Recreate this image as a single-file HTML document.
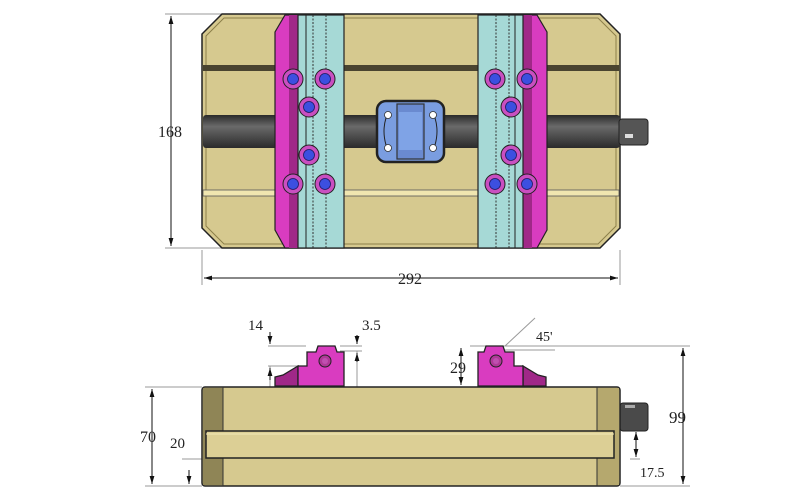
<!DOCTYPE html><html><head><style>body{margin:0;background:#fff}svg{display:block}text{font-family:"Liberation Serif",serif;fill:#222}</style></head><body>
<svg width="800" height="500" viewBox="0 0 800 500" xmlns="http://www.w3.org/2000/svg">
<defs>
<linearGradient id="sh" x1="0" y1="0" x2="0" y2="1"><stop offset="0" stop-color="#2a2a2a"/><stop offset=".35" stop-color="#6a6a6a"/><stop offset="1" stop-color="#2a2a2a"/></linearGradient>
<marker id="a" viewBox="0 0 10 10" refX="10" refY="5" markerWidth="8" markerHeight="8" orient="auto-start-reverse"><path d="M0,2 L10,5 L0,8z" fill="#111"/></marker>
</defs>
<g stroke="#999" stroke-width="1" fill="none">
<line x1="165" y1="14" x2="222" y2="14"/><line x1="165" y1="248" x2="222" y2="248"/>
<line x1="202" y1="250" x2="202" y2="285"/><line x1="620" y1="250" x2="620" y2="285"/>
<line x1="145" y1="387" x2="202" y2="387"/><line x1="145" y1="486" x2="202" y2="486"/>
<line x1="182" y1="459" x2="206" y2="459"/>
<line x1="470" y1="346" x2="690" y2="346"/><line x1="620" y1="486" x2="690" y2="486"/>
<line x1="630" y1="459" x2="640" y2="459"/>
<line x1="268" y1="346" x2="306" y2="346"/><line x1="268" y1="366" x2="300" y2="366"/>
<line x1="340" y1="346" x2="362" y2="346"/><line x1="340" y1="351" x2="362" y2="351"/>
<line x1="357" y1="351" x2="357" y2="387"/><line x1="270" y1="366" x2="270" y2="400"/>
<line x1="505" y1="350" x2="555" y2="350"/><line x1="505" y1="346" x2="535" y2="318"/>
</g>
<g stroke="#111" stroke-width="1" fill="none">
<line x1="171" y1="16" x2="171" y2="246" marker-start="url(#a)" marker-end="url(#a)"/>
<line x1="204" y1="278" x2="618" y2="278" marker-start="url(#a)" marker-end="url(#a)"/>
<line x1="152" y1="389" x2="152" y2="484" marker-start="url(#a)" marker-end="url(#a)"/>
<line x1="189" y1="470" x2="189" y2="484" marker-end="url(#a)"/>
<line x1="683" y1="348" x2="683" y2="484" marker-start="url(#a)" marker-end="url(#a)"/>
<line x1="636" y1="432" x2="636" y2="457" marker-start="url(#a)" marker-end="url(#a)"/>
<line x1="461" y1="348" x2="461" y2="385" marker-start="url(#a)" marker-end="url(#a)"/>
<line x1="270" y1="332" x2="270" y2="344" marker-end="url(#a)"/>
<line x1="270" y1="380" x2="270" y2="368" marker-end="url(#a)"/>
<line x1="357" y1="335" x2="357" y2="344" marker-end="url(#a)"/>
<line x1="357" y1="362" x2="357" y2="353" marker-end="url(#a)"/>
</g>
<text x="158" y="137" font-size="16">168</text>
<text x="398" y="284" font-size="16">292</text>
<text x="248" y="330" font-size="15">14</text>
<text x="362" y="330" font-size="15">3.5</text>
<text x="536" y="341" font-size="14">45'</text>
<text x="450" y="373" font-size="16">29</text>
<text x="140" y="442" font-size="16">70</text>
<text x="170" y="448" font-size="15">20</text>
<text x="669" y="423" font-size="17">99</text>
<text x="640" y="477" font-size="14">17.5</text>
<!-- top view -->
<path d="M222,14 H600 L620,34 V228 L600,248 H222 L202,228 V34Z" fill="#d6c98f" stroke="#222" stroke-width="1.5"/>
<path d="M224,18 H598 L616,36 V226 L598,244 H224 L206,226 V36Z" fill="none" stroke="#8c7f4a" stroke-width="1"/>
<rect x="203" y="65" width="416" height="6" fill="#4a4430"/>
<rect x="203" y="190" width="416" height="6" fill="#f0e6b0" stroke="#555" stroke-width="0.8"/>
<rect x="203" y="115" width="417" height="33" rx="3" fill="url(#sh)"/>
<rect x="619" y="119" width="29" height="26" rx="3" fill="#555" stroke="#222"/>
<rect x="625" y="134" width="8" height="4" fill="#ddd"/>
<g stroke="#222" stroke-width="1.2">
<path d="M285,15 H298 V248 H285 L275,230 V32Z" fill="#d93cc0"/>
<rect x="289" y="15" width="9" height="233" fill="#a02888" stroke="none"/>
<rect x="298" y="15" width="46" height="233" fill="#a6d9d6"/>
<path d="M537,15 H523 V248 H537 L547,230 V32Z" fill="#d93cc0"/>
<rect x="523" y="15" width="9" height="233" fill="#a02888" stroke="none"/>
<rect x="478" y="15" width="45" height="233" fill="#a6d9d6"/>
</g>
<g stroke="#333" stroke-width="1" stroke-dasharray="2 1.5">
<line x1="313" y1="15" x2="313" y2="248"/><line x1="326" y1="15" x2="326" y2="248"/>
<line x1="496" y1="15" x2="496" y2="248"/><line x1="509" y1="15" x2="509" y2="248"/>
</g>
<g stroke="#222" stroke-width="1">
<line x1="306" y1="15" x2="306" y2="248"/><line x1="515" y1="15" x2="515" y2="248"/>
</g>
<g fill="#c94fc0" stroke="#222" stroke-width="1">
<circle cx="293" cy="79" r="10"/><circle cx="325" cy="79" r="10"/><circle cx="309" cy="107" r="10"/><circle cx="309" cy="155" r="10"/><circle cx="293" cy="184" r="10"/><circle cx="325" cy="184" r="10"/>
<circle cx="495" cy="79" r="10"/><circle cx="527" cy="79" r="10"/><circle cx="511" cy="107" r="10"/><circle cx="511" cy="155" r="10"/><circle cx="495" cy="184" r="10"/><circle cx="527" cy="184" r="10"/>
</g>
<g fill="#3c4fe0" stroke="#1a1a60" stroke-width="0.8">
<circle cx="293" cy="79" r="5.5"/><circle cx="325" cy="79" r="5.5"/><circle cx="309" cy="107" r="5.5"/><circle cx="309" cy="155" r="5.5"/><circle cx="293" cy="184" r="5.5"/><circle cx="325" cy="184" r="5.5"/>
<circle cx="495" cy="79" r="5.5"/><circle cx="527" cy="79" r="5.5"/><circle cx="511" cy="107" r="5.5"/><circle cx="511" cy="155" r="5.5"/><circle cx="495" cy="184" r="5.5"/><circle cx="527" cy="184" r="5.5"/>
</g>
<rect x="377" y="101" width="67" height="61" rx="9" fill="#7a9de0" stroke="#222" stroke-width="2.5"/>
<rect x="397" y="104" width="27" height="55" fill="#6a8ad0" stroke="#333" stroke-width="1.2"/>
<rect x="399" y="112" width="23" height="38" fill="#7fa3e6" stroke="none"/>
<g fill="#fff" stroke="#333" stroke-width="0.8"><circle cx="388" cy="115" r="3.5"/><circle cx="433" cy="115" r="3.5"/><circle cx="388" cy="148" r="3.5"/><circle cx="433" cy="148" r="3.5"/></g>
<g stroke="#222" fill="none"><path d="M386,118 Q382,131 386,145"/><path d="M435,118 Q439,131 435,145"/></g>
<!-- side view -->
<rect x="620" y="403" width="28" height="28" rx="3" fill="#4a4a4a" stroke="#222"/>
<rect x="625" y="405" width="10" height="3" fill="#aaa"/>
<rect x="202" y="387" width="418" height="99" rx="3" fill="#d6c98f" stroke="#222" stroke-width="1.5"/>
<rect x="203" y="388" width="20" height="97" fill="#8f8556"/>
<rect x="597" y="388" width="22" height="97" fill="#b5a86e"/>
<line x1="223" y1="387" x2="223" y2="486" stroke="#333"/><line x1="597" y1="387" x2="597" y2="486" stroke="#333"/>
<rect x="206" y="431" width="408" height="27" fill="#dccf95" stroke="#222" stroke-width="1.5"/>
<line x1="206" y1="434" x2="614" y2="434" stroke="#f2e8b8"/>
<g stroke="#222" stroke-width="1.3">
<path d="M275,386 V377 L283,375 L298,366 V386Z" fill="#a02888"/>
<path d="M298,386 V366 L307,366 V352 H316 L318,346 H335 L337,352 H344 V386Z" fill="#d93cc0"/>
<path d="M546,386 V377 L538,375 L523,366 V386Z" fill="#a02888"/>
<path d="M523,386 V366 L514,366 V352 H505 L503,346 H486 L484,352 H478 V386Z" fill="#d93cc0"/>
</g>
<g stroke="#222" fill="#b03898"><circle cx="325" cy="361" r="6"/><circle cx="496" cy="361" r="6"/></g>
<g fill="#c050b0"><circle cx="325" cy="361" r="3"/><circle cx="496" cy="361" r="3"/></g>
</svg>
</body></html>
